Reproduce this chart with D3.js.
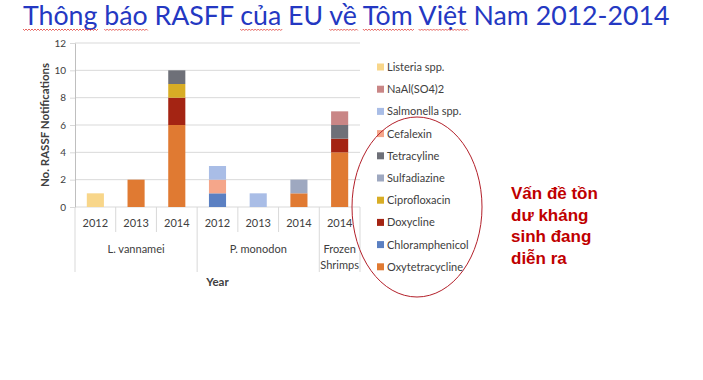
<!DOCTYPE html>
<html>
<head>
<meta charset="utf-8">
<script src="https://cdn.jsdelivr.net/npm/d3@7"></script>
<style>
  body { margin: 0; background: #fff; }
  svg { display: block; }
</style>
</head>
<body>
<script>
// categories
const groups = ["L. vannamei", "P. monodon", "Frozen Shrimps"];
const years = ["2012", "2013", "2014", "2012", "2013", "2014", "2014"];
const groupOf = [0, 0, 0, 1, 1, 1, 2];
const yTicks = [0, 2, 4, 6, 8, 10, 12];

// series values per category (bottom of stack first)
const oxytetracycline = [0, 2, 6, 0, 0, 1, 4];
const chloramphenicol = [0, 0, 0, 1, 0, 0, 0];
const doxycline       = [0, 0, 2, 0, 0, 0, 1];
const ciprofloxacin   = [0, 0, 1, 0, 0, 0, 0];
const sulfadiazine    = [0, 0, 0, 0, 0, 1, 0];
const tetracyline     = [0, 0, 1, 0, 0, 0, 1];
const cefalexin       = [0, 0, 0, 1, 0, 0, 0];
const salmonella      = [0, 0, 0, 1, 1, 0, 0];
const naal            = [0, 0, 0, 0, 0, 0, 1];
const listeria        = [1, 0, 0, 0, 0, 0, 0];

const seriesNames = ["Oxytetracycline", "Chloramphenicol", "Doxycline", "Ciprofloxacin",
  "Sulfadiazine", "Tetracyline", "Cefalexin", "Salmonella spp.", "NaAl(SO4)2", "Listeria spp."];
const seriesValues = [oxytetracycline, chloramphenicol, doxycline, ciprofloxacin,
  sulfadiazine, tetracyline, cefalexin, salmonella, naal, listeria];
const seriesColors = ["#e07a32", "#5b80c2", "#a42413", "#d8ad25", "#9ea8c0",
  "#6e7078", "#f5a68a", "#a9bde6", "#c98686", "#f8d68a"];

const W = 703, H = 380;
const plotLeft = 75, plotRight = 360, plotTop = 43, plotBottom = 207;
const chartFont = "Lato, 'Open Sans', sans-serif";

const svg = d3.select("body").append("svg")
  .attr("width", W).attr("height", H)
  .style("background", "#fff");

// title, stretched to the width it has in the picture
const titleText = "Thông báo RASFF của EU về Tôm Việt Nam 2012-2014";
const title = svg.append("text")
  .attr("x", 23).attr("y", 25)
  .attr("font-family", "Lato, 'Open Sans', sans-serif")
  .attr("font-size", 28)
  .attr("fill", "#2438c2")
  .text(titleText);
const tl = title.node().getComputedTextLength();
title.attr("font-size", 28 * 647 / tl);

// spell-check squiggles under some words
const node = title.node();
[[0, 5], [6, 3], [16, 3], [23, 2], [26, 3], [30, 4]].forEach(([s, n]) => {
  const x0 = 23 + (s ? node.getSubStringLength(0, s) : 0);
  const w = node.getSubStringLength(s, n);
  let d = "M" + x0 + ",29";
  for (let xx = x0, k = 0; xx < x0 + w; xx += 1.5, k++) {
    d += "L" + (xx + 1.5) + "," + (k % 2 ? 29 : 30.5);
  }
  svg.append("path").attr("d", d).attr("fill", "none")
    .attr("stroke", "#e0403a").attr("stroke-width", 0.8);
});

// scales
const x = d3.scaleBand().domain(d3.range(years.length)).range([plotLeft, plotRight]).padding(0);
const y = d3.scaleLinear().domain([0, 12]).range([plotBottom, plotTop]);
const barW = x.bandwidth() * 0.42;

// grid lines
svg.append("g").selectAll("line")
  .data(yTicks).join("line")
  .attr("x1", plotLeft).attr("x2", plotRight)
  .attr("y1", d => y(d)).attr("y2", d => y(d))
  .attr("stroke", "#d9d9d9").attr("stroke-width", 1);

// y axis
const yAxis = svg.append("g")
  .attr("transform", `translate(${plotLeft},0)`)
  .call(d3.axisLeft(y).tickValues(yTicks).tickSize(5).tickSizeOuter(0).tickPadding(4));
yAxis.select(".domain").attr("stroke", "#bfbfbf");
yAxis.selectAll(".tick line").attr("stroke", "#d9d9d9");
yAxis.selectAll("text").attr("font-family", chartFont).attr("font-size", 10).attr("fill", "#404040");

// stacked bars
const rows = years.map((yr, i) => {
  const r = { i: i };
  seriesNames.forEach((s, k) => { r[s] = seriesValues[k][i]; });
  return r;
});
const stacked = d3.stack().keys(seriesNames)(rows);
svg.append("g").selectAll("g")
  .data(stacked).join("g")
  .attr("fill", (d, k) => seriesColors[k])
  .selectAll("rect")
  .data(d => d.filter(p => p[1] > p[0])).join("rect")
  .attr("x", p => x(p.data.i) + (x.bandwidth() - barW) / 2)
  .attr("width", barW)
  .attr("y", p => y(p[1]))
  .attr("height", p => y(p[0]) - y(p[1]));

// category axis: separators, years, groups
const seps = d3.range(years.length + 1);
svg.append("g").selectAll("line")
  .data(seps).join("line")
  .attr("x1", i => i < years.length ? x(i) : plotRight)
  .attr("x2", i => i < years.length ? x(i) : plotRight)
  .attr("y1", plotBottom)
  .attr("y2", i => (i === 0 || i === years.length || groupOf[i] !== groupOf[i - 1]) ? 272 : 232)
  .attr("stroke", "#d9d9d9");

svg.append("g").selectAll("text")
  .data(years).join("text")
  .attr("x", (d, i) => x(i) + x.bandwidth() / 2)
  .attr("y", 227)
  .attr("text-anchor", "middle")
  .attr("font-family", chartFont).attr("font-size", 11).attr("fill", "#404040")
  .text(d => d);

const groupLabels = svg.append("g").selectAll("text")
  .data(groups).join("text")
  .attr("x", (g, gi) => {
    const idx = groupOf.map((v, i) => v === gi ? i : -1).filter(i => i >= 0);
    return (x(idx[0]) + x(idx[idx.length - 1]) + x.bandwidth()) / 2;
  })
  .attr("y", 253)
  .attr("text-anchor", "middle")
  .attr("font-family", chartFont).attr("font-size", 11).attr("fill", "#404040");
groupLabels.each(function(g) {
  const t = d3.select(this);
  const words = g === "Frozen Shrimps" ? ["Frozen", "Shrimps"] : [g];
  words.forEach((w, k) => {
    t.append("tspan").attr("x", t.attr("x")).attr("dy", k ? 16 : 0).text(w);
  });
});

// axis titles
svg.append("text")
  .attr("x", (plotLeft + plotRight) / 2).attr("y", 286)
  .attr("text-anchor", "middle")
  .attr("font-family", chartFont).attr("font-size", 11.5).attr("font-weight", "bold")
  .attr("fill", "#404040")
  .text("Year");
svg.append("text")
  .attr("transform", `translate(49,${(plotTop + plotBottom) / 2}) rotate(-90)`)
  .attr("text-anchor", "middle")
  .attr("font-family", chartFont).attr("font-size", 11.5).attr("font-weight", "bold")
  .attr("fill", "#404040")
  .text("No. RASSF Notifications");

// legend (top entry is the last series)
const legendOrder = seriesNames.map((s, k) => k).reverse();
const legend = svg.append("g").selectAll("g")
  .data(legendOrder).join("g")
  .attr("transform", (k, j) => `translate(377,${67 + j * 22.2})`);
legend.append("rect")
  .attr("x", 0).attr("y", -3.5).attr("width", 7).attr("height", 7)
  .attr("fill", k => seriesColors[k]);
legend.append("text")
  .attr("x", 10).attr("y", 4)
  .attr("font-family", chartFont).attr("font-size", 11).attr("fill", "#404040")
  .text(k => seriesNames[k]);

// red ellipse round the antibiotics
svg.append("ellipse")
  .attr("cx", 417).attr("cy", 207).attr("rx", 65).attr("ry", 90)
  .attr("fill", "none").attr("stroke", "#b3202a").attr("stroke-width", 1);

// annotation
const note = ["Vấn đề tồn", "dư kháng", "sinh đang", "diễn ra"];
svg.append("g").selectAll("text")
  .data(note).join("text")
  .attr("x", 511).attr("y", (d, i) => 199 + i * 21.5)
  .attr("font-family", "'Liberation Sans', Arial, sans-serif")
  .attr("font-size", 17).attr("font-weight", "bold")
  .attr("fill", "#c00000")
  .text(d => d);
</script>
</body>
</html>
